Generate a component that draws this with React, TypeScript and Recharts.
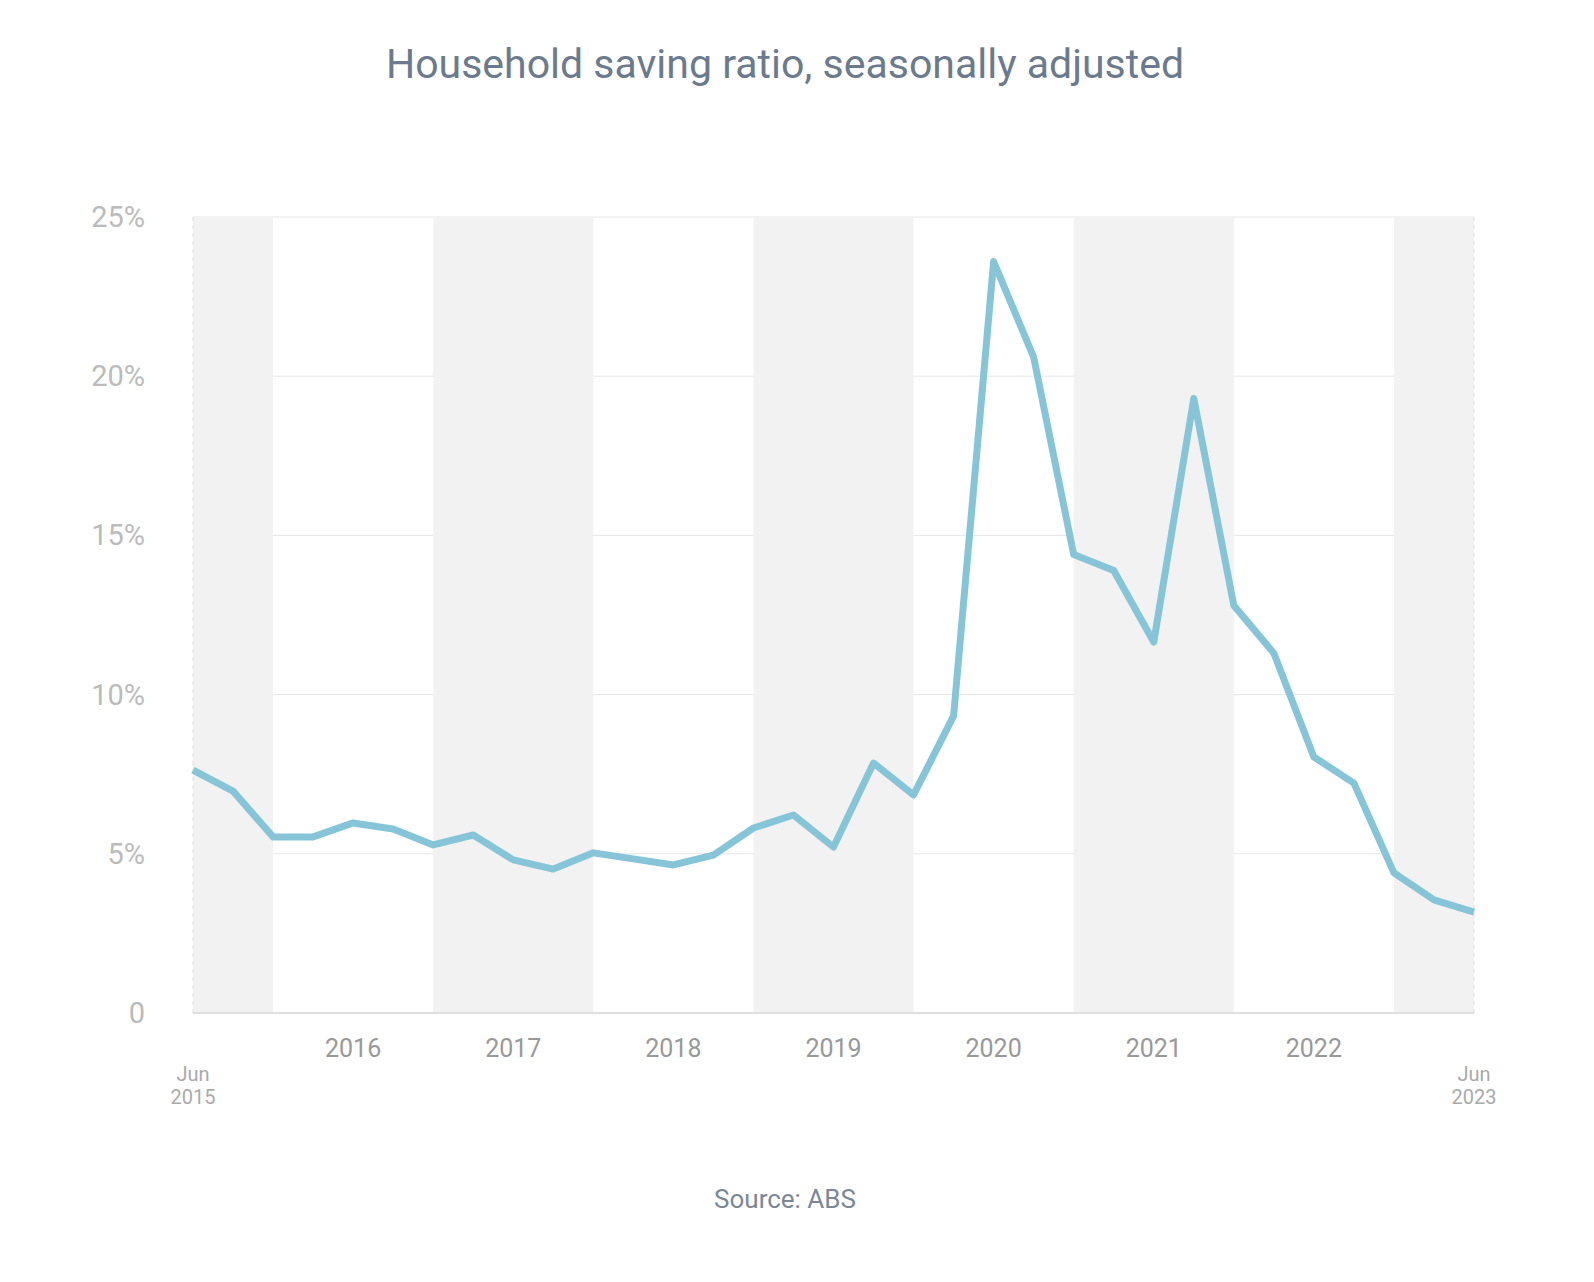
import React from "react";
import { LineChart, Line, XAxis, YAxis, CartesianGrid, ReferenceArea, ReferenceLine } from "recharts";

const quarterIndex = Array.from({ length: 33 }, (_, i) => i);
const savingRatio = [
  7.63, 6.97, 5.53, 5.53, 5.97, 5.78, 5.28, 5.59, 4.81, 4.52, 5.03, 4.84, 4.65, 4.96, 5.81, 6.22,
  5.21, 7.85, 6.85, 9.33, 23.6, 20.6, 14.4, 13.9, 11.65, 19.3, 12.8, 11.3, 8.04, 7.22, 4.4, 3.55, 3.17,
];
const xTicks = [0, 4, 8, 12, 16, 20, 24, 28, 32];
const xTickLabels: Record<number, string[]> = {
  0: ["Jun", "2015"], 4: ["2016"], 8: ["2017"], 12: ["2018"], 16: ["2019"],
  20: ["2020"], 24: ["2021"], 28: ["2022"], 32: ["Jun", "2023"],
};
const yTicks = [0, 5, 10, 15, 20, 25];
const shadedBands = [[0, 2], [6, 10], [14, 18], [22, 26], [30, 32]];

const data = quarterIndex.map((q, i) => ({ q, value: savingRatio[i] }));

function XTick({ x, y, payload }: any) {
  const lines = xTickLabels[payload.value] || [];
  if (lines.length === 2) {
    return (
      <g>
        <text x={x} y={y + 60} textAnchor="middle" fill="#aaa" fontSize={20}>{lines[0]}</text>
        <text x={x} y={y + 83} textAnchor="middle" fill="#aaa" fontSize={20}>{lines[1]}</text>
      </g>
    );
  }
  return <text x={x} y={y + 36} textAnchor="middle" fill="#999" fontSize={25}>{lines[0]}</text>;
}

function YTick({ x, y, payload }: any) {
  const v = payload.value;
  return (
    <text x={x - 40} y={y + 10} textAnchor="end" fill="#bbb" fontSize={29}>
      {v === 0 ? "0" : `${v}%`}
    </text>
  );
}

export default function App() {
  return (
    <div style={{ position: "absolute", left: 0, top: 0, width: 1594, height: 1282, background: "#fff", fontFamily: "Roboto" }}>
      <div style={{ position: "absolute", top: 40, width: 1570, textAlign: "center", fontSize: 41, color: "#6b7a8d" }}>
        Household saving ratio, seasonally adjusted
      </div>
      <LineChart width={1594} height={1282} data={data} margin={{ top: 217, right: 120, bottom: 169, left: 113 }}>
        {shadedBands.map(([a, b]) => (
          <ReferenceArea key={a} x1={a} x2={b} fill="#f2f2f2" fillOpacity={1} stroke="none" />
        ))}
        <CartesianGrid vertical={false} stroke="#e6e6e6" />
        <ReferenceLine x={0} stroke="#ddd" strokeDasharray="4 4" />
        <ReferenceLine x={32} stroke="#ddd" strokeDasharray="4 4" />
        <XAxis
          dataKey="q" type="number" domain={[0, 32]} ticks={xTicks} tick={<XTick />}
          axisLine={{ stroke: "#ccc" }} tickLine={false} height={100}
        />
        <YAxis
          type="number" domain={[0, 25]} ticks={yTicks} axisLine={false} tickLine={false} width={80}
          tick={<YTick />}
        />
        <Line
          dataKey="value" stroke="#86c5d8" strokeWidth={7} dot={false}
          strokeLinejoin="round" isAnimationActive={false}
        />
      </LineChart>
      <div style={{ position: "absolute", top: 1184, width: 1570, textAlign: "center", fontSize: 26, color: "#7b8797" }}>
        Source: ABS
      </div>
    </div>
  );
}
